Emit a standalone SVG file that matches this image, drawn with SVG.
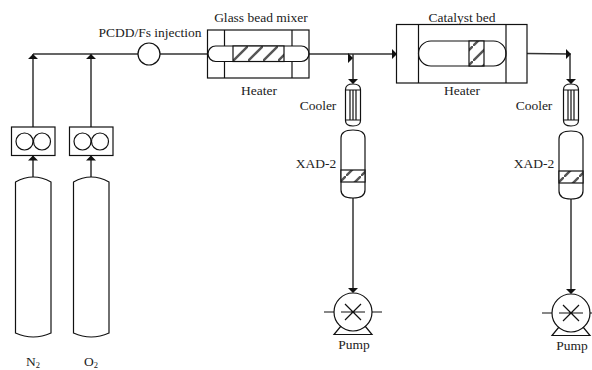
<svg xmlns="http://www.w3.org/2000/svg" width="592" height="370" viewBox="0 0 592 370">
<style>
text{font-family:"Liberation Serif","Times New Roman",serif;font-size:13.5px;fill:#222;text-anchor:middle}
.s{fill:none;stroke:#111;stroke-width:1.2}
.c{fill:none;stroke:#333;stroke-width:1.5}
.a{fill:#111;stroke:none}
.b{fill:url(#hatch);stroke:#111;stroke-width:1.2}
</style>
<defs>
<pattern id="hatch" width="15" height="15" patternUnits="userSpaceOnUse" patternTransform="translate(233 46)">
<rect width="15" height="15" fill="#fff"/>
<path d="M-2 17L17 -2" stroke="#555" stroke-width="2.4" fill="none"/>
</pattern>
<g id="pump">
<circle class="s" r="19"/>
<path class="s" d="M-12 0H12M-8 -8L8 8M-8 8L8 -8M-29 0H-19M19 0H29M-12 14L-19 22.500H19L12 14"/>
</g>
<g id="cooler">
<path class="s" d="M-7.500 5.500V36.500Q-7.500 42 0 42Q7.500 42 7.500 36.500V5.500Q7.500 0 0 0Q-7.500 0 -7.500 5.500ZM-7.500 6H7.500M-7.500 36H7.500M-3 6V36M0 6V36M3 6V36"/>
</g>
<g id="xad">
<path class="s" d="M-12 8V60Q-12 68 0 68Q12 68 12 60V8Q12 0 0 0Q-12 0 -12 8Z"/>
<rect class="b" x="-12" y="40" width="24" height="12"/>
</g>
<g id="flow">
<rect class="s" x="0" y="0" width="43.500" height="28.500"/>
<circle class="s" cx="13" cy="14.500" r="8.500"/>
<circle class="s" cx="30.500" cy="14.500" r="8.500"/>
</g>
<path id="cyl" class="s" d="M0 5Q17.750 -5 35.500 5V156Q17.750 164 0 156Z"/>
</defs>
<g id="connectors">
<path class="c" d="M33 54H138M160 54H207M33 127V54M91 127V54M33 177V155M91 177V155M309 54H397M353 54V80M353 198V288M527 53.500L570 54V80M571 199V289"/>
<path class="a" d="M33 54l-5 5h10zM91 54l-5 5h10zM33 155.500l-5 5h10zM91 155.500l-5 5h10zM353 58l-5 -5v10zM353 84l-5 -5h10zM353 293l-5 -5h10zM397 54l-5 -5v10zM571 54l-5 -5v10zM571 84l-5 -5h10zM571 294l-5 -5h10z"/>
</g>
<g id="n2-cylinder"><use href="#cyl" x="15.500" y="177"/><text x="33" y="366">N<tspan font-size="8.500" dy="2">2</tspan></text></g>
<g id="o2-cylinder"><use href="#cyl" x="73.500" y="177"/><text x="91" y="366">O<tspan font-size="8.500" dy="2">2</tspan></text></g>
<g id="flow-n2"><use href="#flow" x="11.500" y="127"/></g>
<g id="flow-o2"><use href="#flow" x="69.500" y="127"/></g>
<g id="injection"><circle class="s" cx="149" cy="54" r="11"/><text x="150" y="37">PCDD/Fs injection</text></g>
<g id="mixer">
<rect class="s" x="207.500" y="30" width="101.500" height="48"/>
<path class="s" d="M224.500 30V46M224.500 61.500V78M292 30V46M292 61.500V78"/>
<rect class="s" x="208" y="46" width="101" height="15.500" rx="7.700"/>
<rect class="b" x="233" y="46" width="51" height="15.500"/>
<text x="261" y="22">Glass bead mixer</text>
<text x="259" y="95">Heater</text>
</g>
<g id="catalyst">
<rect class="s" x="396.500" y="24.500" width="130.500" height="58.500"/>
<path class="s" d="M418.500 24.500V83M506 24.500V83"/>
<rect class="s" x="418.500" y="41" width="87.500" height="25" rx="12.500"/>
<rect class="b" x="469" y="41" width="15" height="25"/>
<text x="462" y="22">Catalyst bed</text>
<text x="462" y="95">Heater</text>
</g>
<g id="cooler1"><use href="#cooler" x="353" y="84"/><text x="318" y="110">Cooler</text></g>
<g id="xad1"><use href="#xad" x="353" y="130"/><text x="316" y="168">XAD-2</text></g>
<g id="pump1"><use href="#pump" x="353" y="312"/><text x="354" y="349">Pump</text></g>
<g id="cooler2"><use href="#cooler" x="571" y="84"/><text x="534" y="110">Cooler</text></g>
<g id="xad2"><use href="#xad" x="571" y="131"/><text x="534" y="168">XAD-2</text></g>
<g id="pump2"><use href="#pump" x="571" y="313"/><text x="572" y="350">Pump</text></g>
</svg>
